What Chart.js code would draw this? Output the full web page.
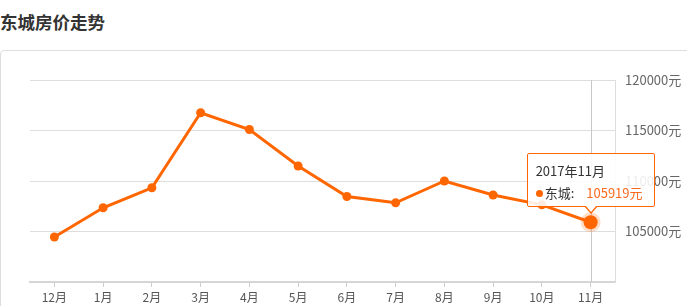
<!DOCTYPE html>
<html>
<head>
<meta charset="utf-8">
<script src="https://cdn.jsdelivr.net/npm/chart.js@4/dist/chart.umd.min.js"></script>
<style>
    html, body { margin: 0; padding: 0; background: #fff; overflow: hidden; }
    body { width: 687px; height: 306px; position: relative; font-family: "Noto Sans CJK SC", "Noto Sans", sans-serif; }
    .title { position: absolute; left: 0; top: 10px; font-size: 17.5px; font-weight: bold; color: #333; line-height: 24px; }
    .panel { position: absolute; left: 0; top: 50px; width: 720px; height: 300px; border: 1px solid #ddd; border-radius: 4px; box-sizing: border-box; }
    #chart { position: absolute; left: 0; top: 0; }
    .tip { position: absolute; width: 128px; height: 54px; box-sizing: border-box; border: 1px solid #f60; border-radius: 2px;
           background: rgba(255,255,255,0.88); padding: 6px 8px; font-size: 13px; color: #333; line-height: 22px; white-space: nowrap; }
    .tip .dot { display: inline-block; width: 7px; height: 7px; border-radius: 50%; background: #f60; margin-right: 2px; vertical-align: 1px; }
    .tip .val { color: #fa6a1e; margin-left: 12px; }
    .tip:after, .tip:before { content: ""; position: absolute; left: 50%; border-style: solid; border-color: transparent; }
    .tip:before { bottom: -8px; margin-left: -7px; border-width: 8px 7px 0 7px; border-top-color: #f60; }
    .tip:after { bottom: -6px; margin-left: -6px; border-width: 7px 6px 0 6px; border-top-color: #fff; }
</style>
</head>
<body>
<div class="title">东城房价走势</div>
<div class="panel"></div>
<canvas id="chart" width="687" height="306"></canvas>
<div class="tip" id="tip" style="display:none"></div>
<script>
// chart data
const months = ['12月', '1月', '2月', '3月', '4月', '5月', '6月', '7月', '8月', '9月', '10月', '11月'];
const periods = ['2016年12月', '2017年1月', '2017年2月', '2017年3月', '2017年4月', '2017年5月',
                 '2017年6月', '2017年7月', '2017年8月', '2017年9月', '2017年10月', '2017年11月'];
const prices = [104460, 107350, 109330, 116760, 115100, 111490, 108470, 107840, 110000, 108610, 107640, 105919];
const seriesName = '东城';
const yMin = 100000;
const yMax = 120000;
const yStep = 5000;
const activeIndex = 11;

const orange = '#ff6600';

// vertical line under the hovered point
const crosshair = {
    id: 'crosshair',
    beforeDatasetsDraw(chart) {
        const act = chart.getActiveElements();
        if (!act.length) return;
        const x = Math.round(act[0].element.x) + 0.5;
        const ctx = chart.ctx;
        ctx.save();
        ctx.strokeStyle = '#c8c8c8';
        ctx.lineWidth = 1;
        ctx.beginPath();
        ctx.moveTo(x, chart.chartArea.top);
        ctx.lineTo(x, chart.chartArea.bottom);
        ctx.stroke();
        ctx.restore();
    }
};

function externalTip(context) {
    const tip = document.getElementById('tip');
    const t = context.tooltip;
    if (!t.opacity || !t.dataPoints || !t.dataPoints.length) {
        tip.style.display = 'none';
        return;
    }
    const dp = t.dataPoints[0];
    tip.innerHTML = '<div>' + periods[dp.dataIndex] + '</div>' +
        '<div><span class="dot"></span>' + seriesName + ':<span class="val">' + dp.raw + '元</span></div>';
    tip.style.display = 'block';
    tip.style.left = (t.caretX - 64) + 'px';
    tip.style.top = (t.caretY - 69) + 'px';
}

const chart = new Chart(document.getElementById('chart'), {
    type: 'line',
    data: {
        labels: months,
        datasets: [{
            label: seriesName,
            data: prices,
            borderColor: orange,
            backgroundColor: orange,
            borderWidth: 3,
            tension: 0,
            pointRadius: 4.5,
            pointBorderWidth: 0,
            pointBackgroundColor: orange,
            pointHoverRadius: 7,
            pointHoverBorderWidth: 6,
            pointHoverBackgroundColor: orange,
            pointHoverBorderColor: 'rgba(255,102,0,0.22)'
        }]
    },
    options: {
        responsive: false,
        animation: false,
        events: [],
        layout: { padding: { top: 80, left: 30, right: 0, bottom: 0 } },
        plugins: {
            legend: { display: false },
            tooltip: { enabled: false, external: externalTip }
        },
        scales: {
            x: {
                offset: true,
                afterFit(scale) { scale.height = 24; },
                grid: { drawOnChartArea: false, drawTicks: true, tickLength: 5, color: '#ccc' },
                border: { display: true, width: 2, color: '#d6d6d6' },
                ticks: { color: '#555', padding: 3, font: { size: 12, family: '"Noto Sans CJK SC", sans-serif' }, maxRotation: 0 }
            },
            y: {
                position: 'right',
                min: yMin,
                max: yMax,
                afterFit(scale) { scale.width = 72; },
                grid: { color: '#ddd', drawTicks: false },
                border: { display: true, color: '#ddd' },
                ticks: {
                    stepSize: yStep,
                    padding: 10,
                    color: '#666',
                    font: { size: 13, family: '"Noto Sans CJK SC", sans-serif' },
                    callback: v => v === yMin ? '' : v + '元'
                }
            }
        }
    },
    plugins: [crosshair]
});

const active = [{ datasetIndex: 0, index: activeIndex }];
chart.setActiveElements(active);
chart.tooltip.setActiveElements(active, { x: 0, y: 0 });
chart.update('none');
</script>
</body>
</html>
